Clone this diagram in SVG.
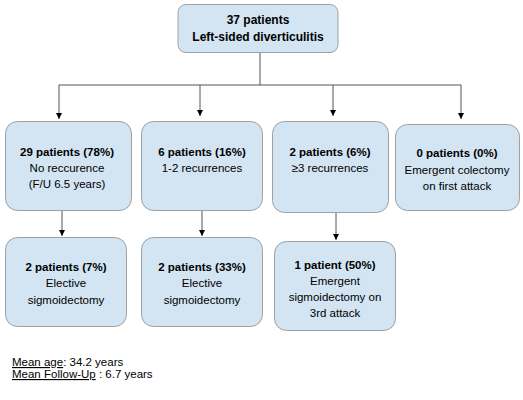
<svg xmlns="http://www.w3.org/2000/svg" width="523" height="400" viewBox="0 0 523 400">
<style>
.box{fill:#d3e5f3;stroke:#a0a0a0;stroke-width:1}
text{font-family:"Liberation Sans",Arial,sans-serif;font-size:11.5px;fill:#000;text-anchor:middle}
.b{font-weight:bold}
.t{font-size:12px}
.c{stroke:#555;stroke-width:1;fill:none}
.note{text-anchor:start;font-size:11.5px}
</style>
<defs>
<marker id="ah" viewBox="0 0 10 10" refX="10" refY="5" markerWidth="6" markerHeight="6" orient="auto" markerUnits="userSpaceOnUse">
<path d="M0,0 L10,5 L0,10 z" fill="#000"/>
</marker>
</defs>
<g id="connectors">
<path class="c" d="M260,53 V85"/>
<path class="c" d="M59,85 H461"/>
<path class="c" d="M59,85 V119" marker-end="url(#ah)"/>
<path class="c" d="M200,85 V116" marker-end="url(#ah)"/>
<path class="c" d="M333,85 V116" marker-end="url(#ah)"/>
<path class="c" d="M461,85 V119" marker-end="url(#ah)"/>
<path class="c" d="M62,210 V236" marker-end="url(#ah)"/>
<path class="c" d="M202,210 V236" marker-end="url(#ah)"/>
<path class="c" d="M336,213 V240" marker-end="url(#ah)"/>
</g>
<g id="n0">
<rect class="box" x="178" y="4.500" width="160" height="48" rx="8"/>
<text class="b t" x="258" y="24">37 patients</text>
<text class="b t" x="258" y="41">Left-sided diverticulitis</text>
</g>
<g id="n1">
<rect class="box" x="5.500" y="121.500" width="126" height="89" rx="12"/>
<text class="b" x="67" y="156">29 patients (78%)</text>
<text x="67" y="172">No reccurence</text>
<text x="67" y="188">(F/U 6.5 years)</text>
</g>
<g id="n2">
<rect class="box" x="141.500" y="121.500" width="121" height="89" rx="12"/>
<text class="b" x="202" y="156">6 patients (16%)</text>
<text x="202" y="172">1-2 recurrences</text>
</g>
<g id="n3">
<rect class="box" x="272.500" y="121.500" width="116" height="91" rx="12"/>
<text class="b" x="330" y="156">2 patients (6%)</text>
<text x="330" y="172">≥3 recurrences</text>
</g>
<g id="n4">
<rect class="box" x="395.500" y="124.500" width="124" height="86" rx="12"/>
<text class="b" x="457" y="157">0 patients (0%)</text>
<text x="457" y="174">Emergent colectomy</text>
<text x="457" y="190">on first attack</text>
</g>
<g id="n5">
<rect class="box" x="5.500" y="237.500" width="121" height="89" rx="12"/>
<text class="b" x="66" y="271">2 patients (7%)</text>
<text x="66" y="287">Elective</text>
<text x="66" y="304">sigmoidectomy</text>
</g>
<g id="n6">
<rect class="box" x="141.500" y="237.500" width="121" height="89" rx="12"/>
<text class="b" x="202" y="271">2 patients (33%)</text>
<text x="202" y="287">Elective</text>
<text x="202" y="304">sigmoidectomy</text>
</g>
<g id="n7">
<rect class="box" x="274.500" y="241.500" width="121" height="89" rx="12"/>
<text class="b" x="335" y="269">1 patient (50%)</text>
<text x="335" y="285">Emergent</text>
<text x="335" y="301">sigmoidectomy on</text>
<text x="335" y="317">3rd attack</text>
</g>
<g id="notes">
<text class="note" x="12" y="366"><tspan text-decoration="underline">Mean age</tspan>: 34.2 years</text>
<text class="note" x="12" y="378"><tspan text-decoration="underline">Mean Follow-Up</tspan> : 6.7 years</text>
</g>
</svg>
